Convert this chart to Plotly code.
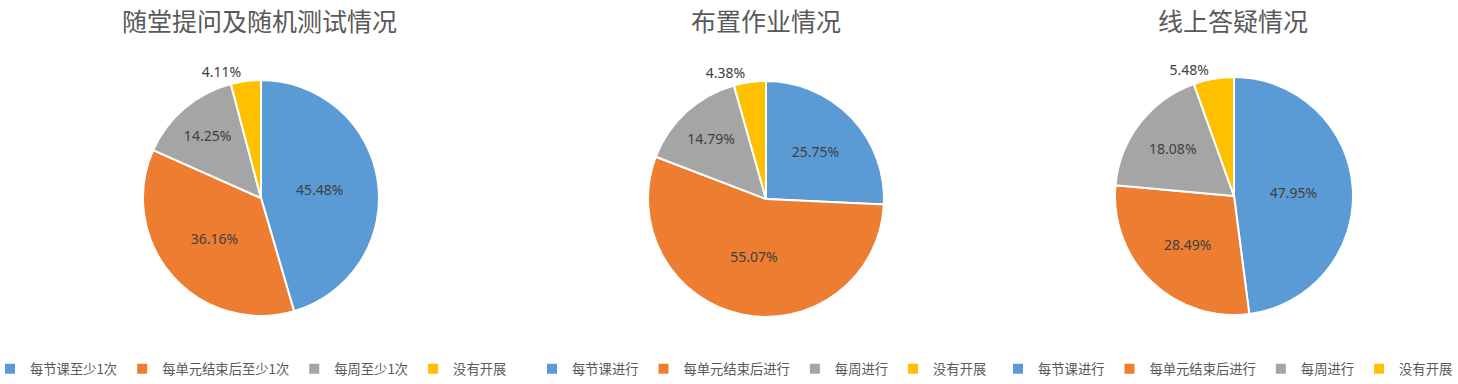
import plotly.graph_objects as go

colors = ["#5B9BD5", "#ED7D31", "#A5A5A5", "#FFC000"]

titles = ["随堂提问及随机测试情况", "布置作业情况", "线上答疑情况"]

labels1 = ["每节课至少1次", "每单元结束后至少1次", "每周至少1次", "没有开展"]
values1 = [45.48, 36.16, 14.25, 4.11]

labels2 = ["每节课进行", "每单元结束后进行", "每周进行", "没有开展"]
values2 = [25.75, 55.07, 14.79, 4.38]

labels3 = ["每节课进行", "每单元结束后进行", "每周进行", "没有开展"]
values3 = [47.95, 28.49, 18.08, 5.48]

W, H = 1458, 384


def px_x(px):
    return px / W


def px_y(py):
    return (H - py) / H


# pie centers (px) and radius
geo = [(261, 198, 118), (766, 199, 118), (1234, 196, 119)]
title_x = [259, 766, 1233]
# left edge of each legend box (px)
legend_left = [-10, 532, 998]

fig = go.Figure()
text_font = dict(family="Noto Sans, Open Sans, sans-serif", size=14, color="#404040")
for i, (labs, vals) in enumerate([(labels1, values1), (labels2, values2), (labels3, values3)]):
    cx, cy, r = geo[i]
    # invisible suffix keeps legend entries of the three pies separate
    uniq = [lab + "\u200b" * i for lab in labs]
    fig.add_trace(go.Pie(
        labels=uniq,
        values=vals,
        text=[f"{v:.2f}%" for v in vals],
        textinfo="text",
        textposition=["inside", "inside", "inside", "outside"],
        insidetextorientation="horizontal",
        insidetextfont=text_font,
        outsidetextfont=text_font,
        marker=dict(colors=colors, line=dict(color="white", width=2)),
        sort=False,
        direction="clockwise",
        rotation=0,
        domain=dict(x=[px_x(cx - r), px_x(cx + r)], y=[px_y(cy + r), px_y(cy - r)]),
        legend="legend" if i == 0 else f"legend{i+1}",
        hoverinfo="skip",
        showlegend=True,
    ))

annotations = []
for t, tx in zip(titles, title_x):
    annotations.append(dict(
        text=t, x=px_x(tx), y=1.0, xref="paper", yref="paper",
        xanchor="center", yanchor="top", showarrow=False,
        font=dict(family="Noto Sans CJK SC, sans-serif", size=25, color="#595959"),
    ))

leg_common = dict(
    orientation="h", xanchor="left", yanchor="middle", y=px_y(369),
    font=dict(family="Noto Sans CJK SC, sans-serif", size=13.3, color="#595959"),
    itemwidth=30, bgcolor="rgba(0,0,0,0)", traceorder="normal",
    itemclick=False, itemdoubleclick=False,
)

fig.update_layout(
    width=W, height=H,
    margin=dict(l=0, r=0, t=0, b=0, autoexpand=False),
    paper_bgcolor="white", plot_bgcolor="white",
    annotations=annotations,
    legend=dict(x=px_x(legend_left[0]), **leg_common),
    legend2=dict(x=px_x(legend_left[1]), **leg_common),
    legend3=dict(x=px_x(legend_left[2]), **leg_common),
)

fig.write_html(
    "out.html",
    config={"displayModeBar": False},
    post_script="document.body.style.margin='0';document.body.style.overflow='hidden';",
)
